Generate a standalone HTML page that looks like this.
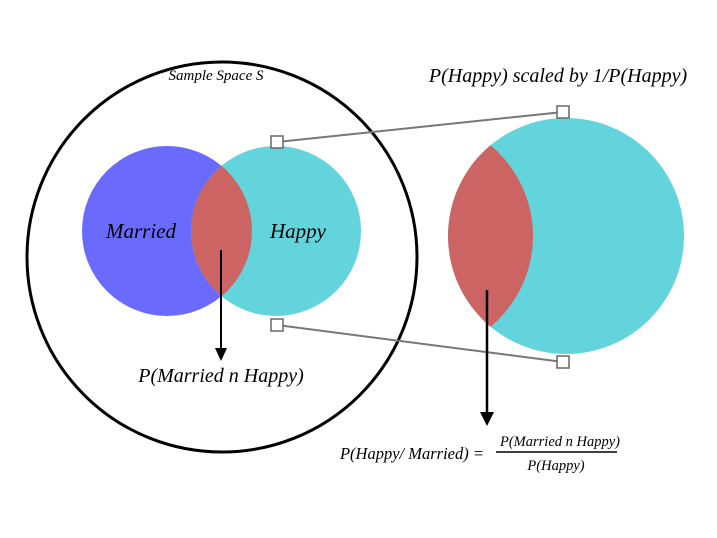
<!DOCTYPE html>
<html><head><meta charset="utf-8"><style>
html,body{margin:0;padding:0;background:#fff;width:717px;height:538px;overflow:hidden}
text{font-family:"Liberation Serif",serif;font-style:italic;fill:#000}
</style></head><body>
<svg width="717" height="538" viewBox="0 0 717 538" xmlns="http://www.w3.org/2000/svg">
<defs>
<clipPath id="h1"><circle cx="276" cy="231" r="85"/></clipPath>
<clipPath id="h2"><circle cx="566" cy="236" r="118"/></clipPath>
</defs>
<circle cx="222" cy="257" r="195" fill="none" stroke="#000" stroke-width="3"/>
<circle cx="167" cy="231" r="85" fill="#6a6aff"/>
<circle cx="276" cy="231" r="85" fill="#63d4dc"/>
<circle cx="167" cy="231" r="85" fill="#cc6464" clip-path="url(#h1)"/>
<circle cx="566" cy="236" r="118" fill="#63d4dc"/>
<circle cx="415" cy="236" r="118" fill="#cc6464" clip-path="url(#h2)"/>
<line x1="277" y1="142" x2="563" y2="112" stroke="#777" stroke-width="2"/>
<line x1="277" y1="325" x2="563" y2="362" stroke="#777" stroke-width="2"/>
<rect x="271" y="136" width="12" height="12" fill="#fff" stroke="#666" stroke-width="1.5"/>
<rect x="557" y="106" width="12" height="12" fill="#fff" stroke="#666" stroke-width="1.5"/>
<rect x="271" y="319" width="12" height="12" fill="#fff" stroke="#666" stroke-width="1.5"/>
<rect x="557" y="356" width="12" height="12" fill="#fff" stroke="#666" stroke-width="1.5"/>
<line x1="221" y1="250" x2="221" y2="350" stroke="#000" stroke-width="2"/>
<polygon points="215,348 227,348 221,361" fill="#000"/>
<line x1="487" y1="290" x2="487" y2="414" stroke="#000" stroke-width="2.5"/>
<polygon points="480,412 494,412 487,426" fill="#000"/>
<text x="216" y="80" font-size="15" text-anchor="middle">Sample Space S</text>
<text x="558" y="82" font-size="20" text-anchor="middle">P(Happy) scaled by 1/P(Happy)</text>
<text x="141" y="238" font-size="21" text-anchor="middle">Married</text>
<text x="298" y="238" font-size="21" text-anchor="middle">Happy</text>
<text x="221" y="382" font-size="20" text-anchor="middle">P(Married n Happy)</text>
<text x="484" y="459" font-size="16.5" text-anchor="end">P(Happy/ Married) =</text>
<text x="560" y="446" font-size="14.5" text-anchor="middle">P(Married n Happy)</text>
<line x1="496" y1="452" x2="617" y2="452" stroke="#000" stroke-width="1.5"/>
<text x="556" y="470" font-size="14.5" text-anchor="middle">P(Happy)</text>
</svg>
</body></html>
